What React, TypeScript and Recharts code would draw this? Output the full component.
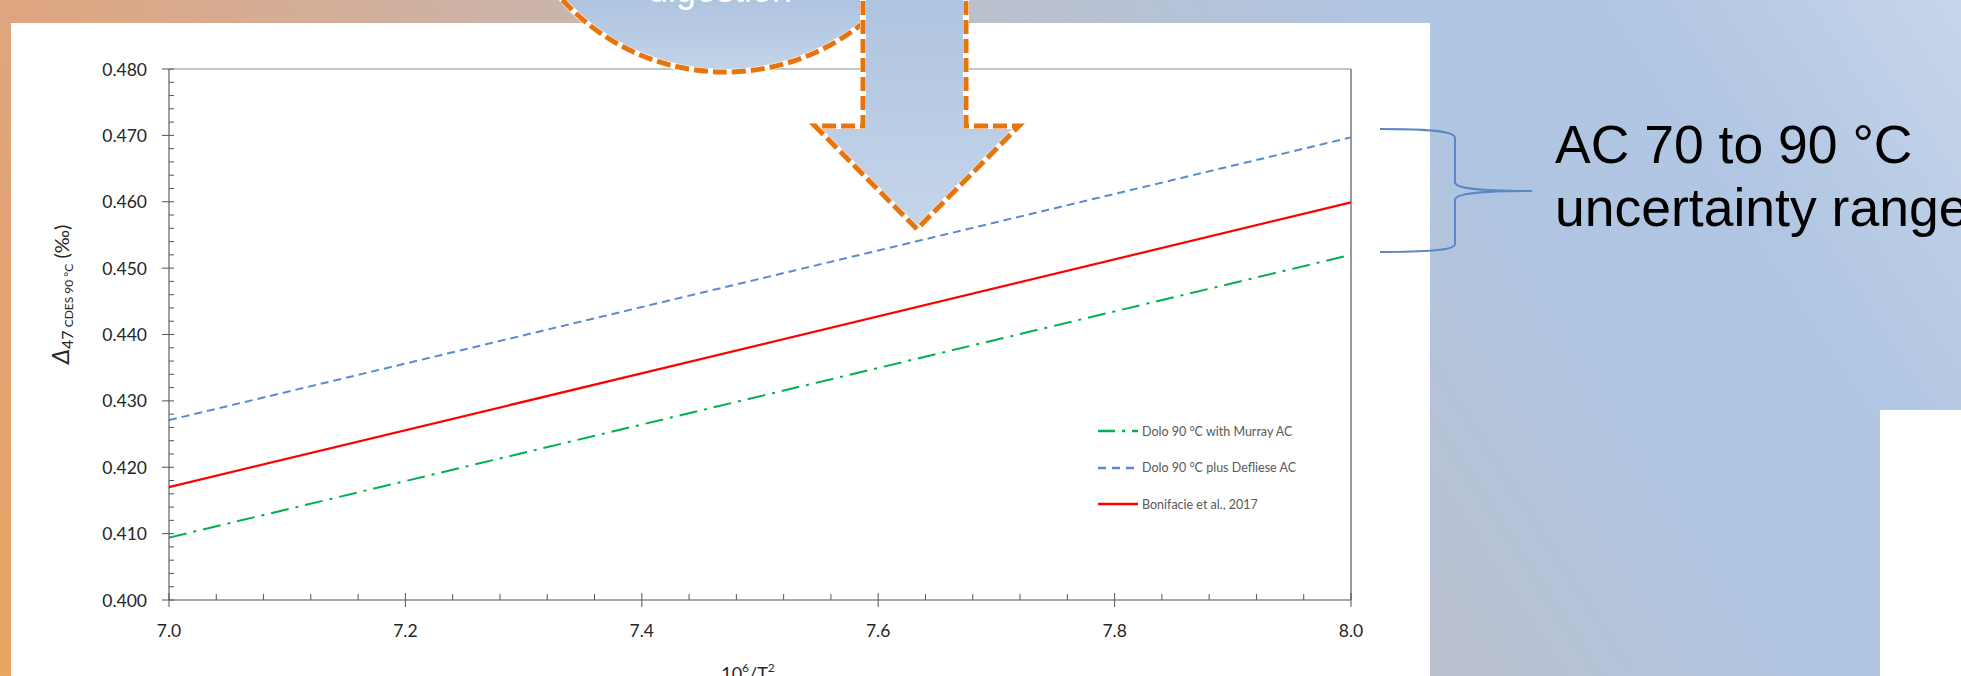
import React from 'react';
import { LineChart, Line, XAxis, YAxis, ReferenceLine, Legend } from 'recharts';

// values (two end points per straight line)
const xValues = [7.0, 8.0];
const murrayAC = [0.4094, 0.452];
const deflieseAC = [0.4271, 0.4697];
const bonifacie2017 = [0.417, 0.4599];

const seriesNames = ['Dolo 90 °C with Murray AC', 'Dolo 90 °C plus Defliese AC', 'Bonifacie et al., 2017'];

const xMajorTicks = [7.0, 7.2, 7.4, 7.6, 7.8, 8.0];
const yMajorTicks = [0.4, 0.41, 0.42, 0.43, 0.44, 0.45, 0.46, 0.47, 0.48];

const makeTicks = (from: number, to: number, step: number) => {
  const out: number[] = [];
  const n = Math.round((to - from) / step);
  for (let i = 0; i <= n; i++) out.push(+(from + i * step).toFixed(4));
  return out;
};
const xAllTicks = makeTicks(7.0, 8.0, 0.04);
const yAllTicks = makeTicks(0.4, 0.48, 0.002);

const isMajor = (v: number, majors: number[]) => majors.some((m) => Math.abs(m - v) < 1e-6);

const data = xValues.map((x, i) => ({
  x,
  murray: murrayAC[i],
  defliese: deflieseAC[i],
  bonifacie: bonifacie2017[i],
}));

const GREEN = '#00B050';
const BLUE = '#5A8BD0';
const RED = '#FF0000';
const GREEN_DASH = '18 7 3 7';
const BLUE_DASH = '8 5';

const FONT = "Lato, 'Open Sans', 'DejaVu Sans', sans-serif";
const SLIDE_FONT = "'Liberation Sans', Arial, sans-serif";

const legendItems = [
  { name: seriesNames[0], color: GREEN, dash: '17 7 3 7' },
  { name: seriesNames[1], color: BLUE, dash: '8 6' },
  { name: seriesNames[2], color: RED, dash: undefined },
];

const YTick = (props: any) => {
  const { x, y, payload } = props;
  const major = isMajor(payload.value, yMajorTicks);
  return (
    <g>
      <line x1={major ? x - 7 : x} x2={x + 5} y1={y} y2={y} stroke="#555" strokeWidth={1} />
      {major && (
        <text x={x - 22} y={y} textAnchor="end" dominantBaseline="central" fontSize={17.5} fill="#262626" fontFamily={FONT}>
          {payload.value.toFixed(3)}
        </text>
      )}
    </g>
  );
};

const XTick = (props: any) => {
  const { x, y, payload } = props;
  const major = isMajor(payload.value, xMajorTicks);
  return (
    <g>
      <line x1={x} x2={x} y1={y - (major ? 7 : 6)} y2={major ? y + 7 : y} stroke="#555" strokeWidth={1} />
      {major && (
        <text x={x} y={y + 30} textAnchor="middle" dominantBaseline="central" fontSize={17.5} fill="#262626" fontFamily={FONT}>
          {payload.value.toFixed(1)}
        </text>
      )}
    </g>
  );
};

const YLabel = ({ viewBox }: any) => {
  const cx = viewBox.x - 40;
  const cy = viewBox.y + viewBox.height / 2 - 40;
  return (
    <text transform={`translate(${cx},${cy}) rotate(-90)`} textAnchor="middle" fill="#262626" fontFamily={FONT}>
      <tspan fontStyle="italic" fontSize={24}>Δ</tspan>
      <tspan fontSize={16} dy={4}>47</tspan>
      <tspan fontSize={12}> CDES 90 °C</tspan>
      <tspan fontSize={20} dy={-4}> (‰)</tspan>
    </text>
  );
};

const XLabel = ({ viewBox }: any) => {
  const cx = viewBox.x + viewBox.width / 2 - 12;
  const by = viewBox.y + 80;
  return (
    <text x={cx} y={by} textAnchor="middle" fill="#262626" fontFamily={FONT} fontSize={18}>
      10<tspan fontSize={12} dy={-8}>6</tspan>
      <tspan dy={8}>/T</tspan>
      <tspan fontSize={12} dy={-8}>2</tspan>
    </text>
  );
};

const renderLegend = () => (
  <div style={{ fontFamily: FONT, fontSize: 12.5, color: '#595959' }}>
    {legendItems.map((item) => (
      <div key={item.name} style={{ display: 'flex', alignItems: 'center', height: 36.5, whiteSpace: 'nowrap' }}>
        <svg width={44} height={10}>
          <line x1={0} y1={5} x2={40} y2={5} stroke={item.color} strokeWidth={2.5} strokeDasharray={item.dash} />
        </svg>
        <span>{item.name}</span>
      </div>
    ))}
  </div>
);

const Decorations = () => (
  <svg width={1961} height={676} style={{ position: 'absolute', left: 0, top: 0 }}>
    <defs>
      <linearGradient id="circleFill" gradientUnits="userSpaceOnUse" x1={0} y1={0} x2={0} y2={74}>
        <stop offset="0%" stopColor="#AFC4E0" />
        <stop offset="100%" stopColor="#C4D4EA" />
      </linearGradient>
      <linearGradient id="arrowFill" gradientUnits="userSpaceOnUse" x1={0} y1={0} x2={0} y2={229}>
        <stop offset="0%" stopColor="#AFC4E0" />
        <stop offset="100%" stopColor="#C5D5EA" />
      </linearGradient>
    </defs>
    <circle cx={725} cy={-147} r={219} fill="url(#circleFill)" stroke="#fff" strokeWidth={6} />
    <circle cx={725} cy={-147} r={219} fill="none" stroke="#E8740E" strokeWidth={5} strokeDasharray="14 5" />
    <text x={720} y={2} textAnchor="middle" fontSize={36} fill="#fff" fontFamily={SLIDE_FONT}>
      digestion
    </text>
    <polygon
      points="863,-10 966,-10 966,126 1019,126 917,229 815,126 863,126"
      fill="url(#arrowFill)"
      stroke="#fff"
      strokeWidth={6}
      strokeLinejoin="miter"
    />
    <polygon
      points="863,-10 966,-10 966,126 1019,126 917,229 815,126 863,126"
      fill="none"
      stroke="#E8740E"
      strokeWidth={5}
      strokeDasharray="14 5"
    />
    <path
      d="M1380,129 C1420,129 1455,130 1455,138 L1455,182 C1455,189 1480,191 1532,191 C1480,191 1455,193 1455,200 L1455,244 C1455,251 1420,252 1380,252"
      fill="none"
      stroke="#5B87C5"
      strokeWidth={2}
    />
    <text x={1555} y={163} fontSize={53.5} fill="#000" fontFamily={SLIDE_FONT}>
      AC 70 to 90 °C
    </text>
    <text x={1555} y={226} fontSize={53.5} fill="#000" fontFamily={SLIDE_FONT}>
      uncertainty range
    </text>
  </svg>
);

export default function App() {
  return (
    <div
      style={{
        position: 'absolute',
        left: 0,
        top: 0,
        width: 1961,
        height: 676,
        overflow: 'hidden',
        background:
          'linear-gradient(57deg, #EAA463 0%, #DFA57E 18%, #CDB3A7 39%, #BAC0CE 60%, #B0C5E1 75%, #B1C6E2 86%, #C6D5EA 100%)',
      }}
    >
      <div style={{ position: 'absolute', left: 11, top: 23, width: 1419, height: 653, background: '#fff' }} />
      <div style={{ position: 'absolute', left: 1880, top: 410, width: 81, height: 266, background: '#fff' }} />
      <div style={{ position: 'absolute', left: 0, top: 0 }}>
        <LineChart width={1430} height={676} data={data} margin={{ top: 69, right: 79, bottom: 46, left: 109 }}>
          <XAxis
            dataKey="x"
            type="number"
            domain={[7, 8]}
            ticks={xAllTicks}
            interval={0}
            tickSize={0}
            tickMargin={0}
            tickLine={false}
            tick={<XTick />}
            height={30}
            stroke="#8C8C8C"
            strokeWidth={1.5}
            label={<XLabel />}
          />
          <YAxis
            type="number"
            domain={[0.4, 0.48]}
            ticks={yAllTicks}
            interval={0}
            tickSize={0}
            tickMargin={0}
            tickLine={false}
            tick={<YTick />}
            width={60}
            stroke="#404040"
            label={<YLabel />}
          />
          <ReferenceLine y={0.48} stroke="#8C8C8C" strokeWidth={1.2} />
          <ReferenceLine x={8} stroke="#555" strokeWidth={1.2} />
          <Line dataKey="murray" name={seriesNames[0]} stroke={GREEN} strokeWidth={2} strokeDasharray={GREEN_DASH} dot={false} isAnimationActive={false} />
          <Line dataKey="defliese" name={seriesNames[1]} stroke={BLUE} strokeWidth={2} strokeDasharray={BLUE_DASH} dot={false} isAnimationActive={false} />
          <Line dataKey="bonifacie" name={seriesNames[2]} stroke={RED} strokeWidth={2.2} dot={false} isAnimationActive={false} />
          <Legend
            layout="vertical"
            align="center"
            verticalAlign="middle"
            content={renderLegend}
            wrapperStyle={{ left: 1098, top: 413, width: 220 }}
          />
        </LineChart>
      </div>
      <Decorations />
    </div>
  );
}
